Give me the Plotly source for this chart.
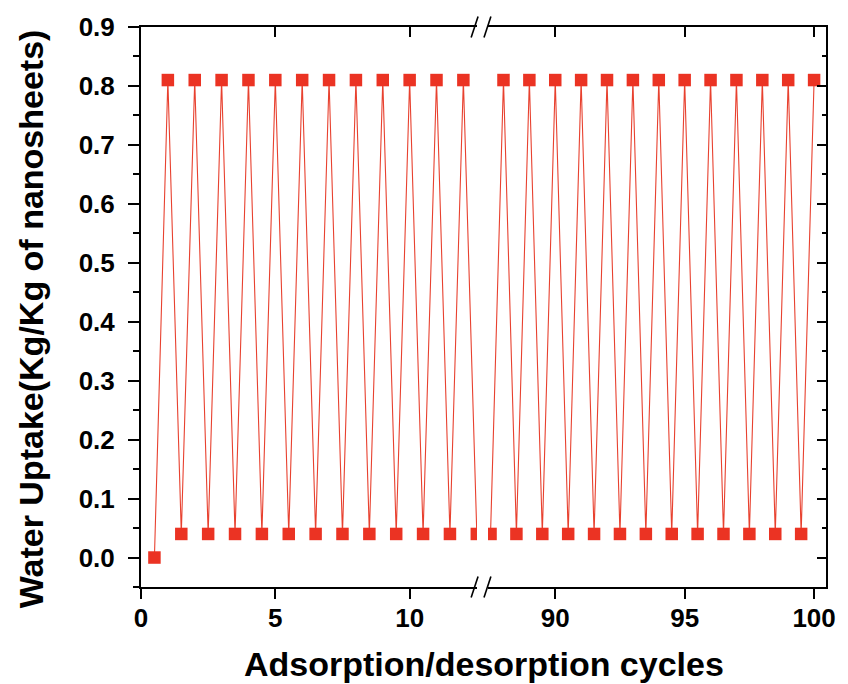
import plotly.graph_objects as go

# ---- data ----
left_x = [0.5, 1, 1.5, 2, 2.5, 3, 3.5, 4, 4.5, 5, 5.5, 6, 6.5,
          7, 7.5, 8, 8.5, 9, 9.5, 10, 10.5, 11, 11.5, 12, 12.5]
left_y = [0.00, 0.81, 0.04, 0.81, 0.04, 0.81, 0.04, 0.81, 0.04, 0.81, 0.04, 0.81, 0.04,
          0.81, 0.04, 0.81, 0.04, 0.81, 0.04, 0.81, 0.04, 0.81, 0.04, 0.81, 0.04]
right_x = [87.5, 88, 88.5, 89, 89.5, 90, 90.5, 91, 91.5, 92, 92.5, 93, 93.5,
           94, 94.5, 95, 95.5, 96, 96.5, 97, 97.5, 98, 98.5, 99, 99.5, 100]
right_y = [0.04, 0.81, 0.04, 0.81, 0.04, 0.81, 0.04, 0.81, 0.04, 0.81, 0.04, 0.81, 0.04,
           0.81, 0.04, 0.81, 0.04, 0.81, 0.04, 0.81, 0.04, 0.81, 0.04, 0.81, 0.04, 0.81]
left_ticks = [0, 5, 10]
right_ticks = [90, 95, 100]
y_title = "Water Uptake(Kg/Kg of nanosheets)"
x_title = "Adsorption/desorption cycles"

# ---- geometry ----
W, H = 848, 684
L, R, T, B = 141, 834, 27, 587
PW, PH = R - L, B - T
def px(x):
    return (x - L) / PW
def py(y):
    return (B - y) / PH

LEFT_END = px(481)
RIGHT_START = px(492)
left_range = [0, 12.51]
right_range = [87.40, 100.46]
y_range = [-0.05, 0.9]

RED = "#EB3323"
LINE_RED = "#E8412F"
FONT = "Liberation Sans"
tickfont = dict(family=FONT, size=26, color="black", weight="bold")

fig = go.Figure()
for xs, ys, xa in [(left_x, left_y, "x"), (right_x, right_y, "x2")]:
    fig.add_trace(go.Scatter(
        x=xs, y=ys, xaxis=xa, yaxis="y", mode="lines+markers",
        line=dict(color=LINE_RED, width=1.1),
        marker=dict(symbol="square", size=12.5, color=RED, line=dict(width=0)),
        showlegend=False, cliponaxis=True))

common_x = dict(showgrid=False, zeroline=False, showline=True, linewidth=2,
                linecolor="black", tickwidth=2, tickcolor="black", ticklen=10)

fig.update_layout(
    width=W, height=H,
    margin=dict(l=L, r=W - R, t=T, b=H - B, pad=0),
    paper_bgcolor="white", plot_bgcolor="white",
    xaxis=dict(domain=[0, LEFT_END], range=left_range, tickmode="array",
               tickvals=left_ticks, ticks="outside", tickfont=tickfont,
               anchor="y", ticklabelstandoff=-3, **common_x),
    xaxis2=dict(domain=[RIGHT_START, 1], range=right_range, tickmode="array",
                tickvals=right_ticks, ticks="outside", tickfont=tickfont,
                anchor="y", ticklabelstandoff=-3, **common_x),
    xaxis3=dict(overlaying="x", side="top", anchor="y", range=left_range,
                tickmode="array", tickvals=left_ticks, ticks="inside",
                showticklabels=False, **common_x),
    xaxis4=dict(overlaying="x2", side="top", anchor="y", range=right_range,
                tickmode="array", tickvals=right_ticks, ticks="inside",
                showticklabels=False, **common_x),
    yaxis=dict(domain=[0, 1], range=y_range, anchor="x", dtick=0.1, tick0=0,
               tickformat=".1f", ticks="outside", ticklen=11, tickwidth=2,
               tickcolor="black", showline=True, linewidth=2, linecolor="black",
               showgrid=False, zeroline=False, tickfont=tickfont,
               ticklabelstandoff=8,
               minor=dict(dtick=0.05, tick0=0, ticks="outside", ticklen=6,
                          tickwidth=2, tickcolor="black", showgrid=False)),
    yaxis2=dict(overlaying="y", side="right", anchor="x2", range=y_range,
                dtick=0.1, tick0=0, ticks="inside", ticklen=9, tickwidth=2,
                tickcolor="black", showline=True, linewidth=2, linecolor="black",
                showgrid=False, zeroline=False, showticklabels=False,
                minor=dict(dtick=0.05, tick0=0, ticks="inside", ticklen=4,
                           tickwidth=2, tickcolor="black", showgrid=False)),
)

# dummy traces so overlay axes are drawn
fig.add_trace(go.Scatter(x=[None], y=[None], xaxis="x3", yaxis="y", showlegend=False, hoverinfo="skip"))
fig.add_trace(go.Scatter(x=[None], y=[None], xaxis="x4", yaxis="y", showlegend=False, hoverinfo="skip"))
fig.add_trace(go.Scatter(x=[None], y=[None], xaxis="x2", yaxis="y2", showlegend=False, hoverinfo="skip"))

# axis break marks
for yc in (T, B):
    for xc in (478.5, 491.5):
        fig.add_shape(type="line", xref="paper", yref="paper",
                      x0=px(xc - 3.5), y0=py(yc + 10.5),
                      x1=px(xc + 3.5), y1=py(yc - 10.5),
                      line=dict(color="black", width=1.6))

titlefont = dict(family=FONT, size=34, color="black", weight="bold")
fig.add_annotation(text=x_title, xref="paper", yref="paper", x=px(487.5), y=py(664),
                   xanchor="center", yanchor="middle", showarrow=False, font=titlefont)
fig.add_annotation(text=y_title, xref="paper", yref="paper", x=px(30), y=py(319),
                   xanchor="center", yanchor="middle", textangle=-90, showarrow=False,
                   font=titlefont)

fig.write_html("out.html")
